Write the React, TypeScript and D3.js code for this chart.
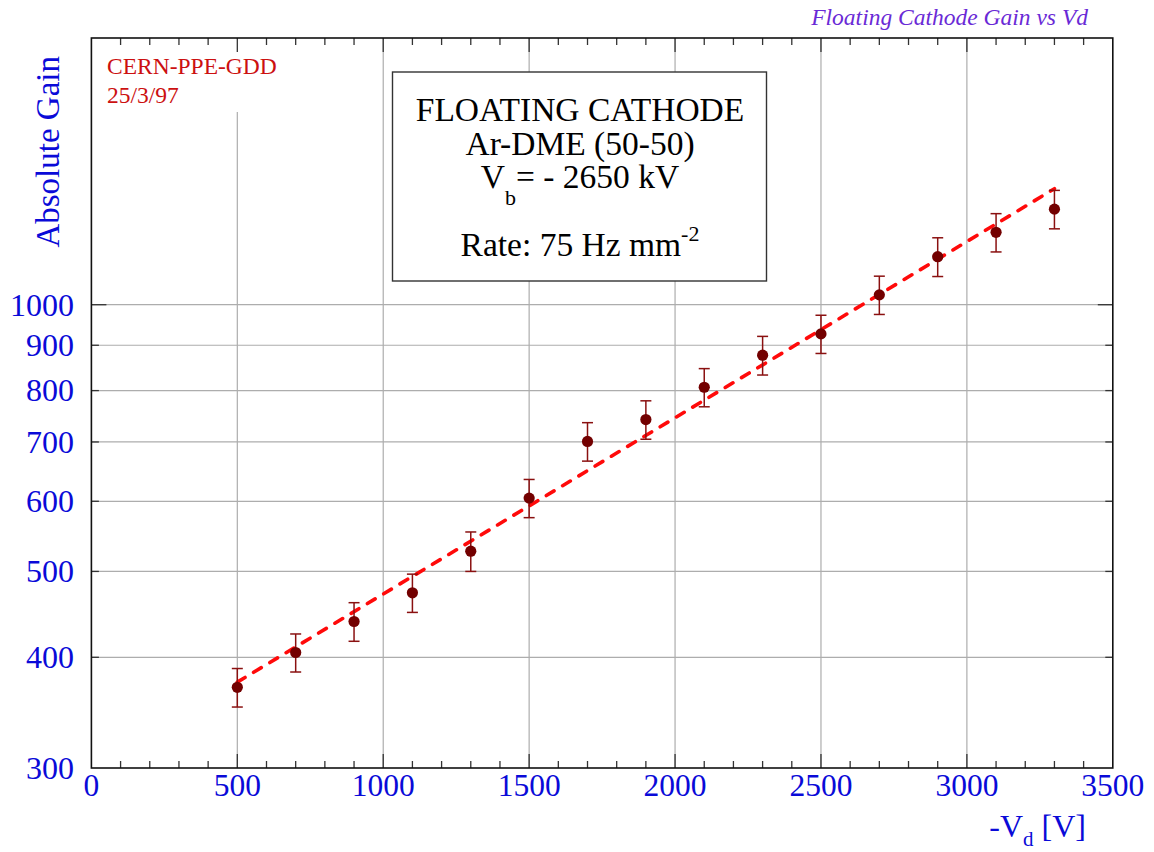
import * as d3 from "d3";
import { useEffect, useRef } from "react";

const voltages = [500, 700, 900, 1100, 1300, 1500, 1700, 1900, 2100, 2300, 2500, 2700, 2900, 3100, 3300];
const gains = [370, 405, 439, 473, 527, 605, 701, 742, 807, 877, 927, 1026, 1133, 1207, 1282];
const gainErrors = [18.5, 20, 22, 23.5, 27, 30, 35, 37, 40, 44, 46, 51, 57, 60, 64];

// exponential fit, read as its two end points (straight on the log axis)
const fitVoltages = [500, 3300];
const fitGains = [375, 1352];

const xTicks = [0, 500, 1000, 1500, 2000, 2500, 3000, 3500];
const yTicks = [300, 400, 500, 600, 700, 800, 900, 1000];

const W = 1154;
const H = 852;
const serif = "'Liberation Serif', 'Times New Roman', serif";
const blue = "#0a0ad8";

export default function App() {
    const ref = useRef<SVGSVGElement | null>(null);

    useEffect(() => {
        if (!ref.current) return;
        const svg = d3.select(ref.current);
        svg.selectAll("*").remove();

        const left = 91.4, right = 1112.8, top = 38, bottom = 768;

        const x = d3.scaleLinear().domain([0, 3500]).range([left, right]);
        const y = d3.scaleLog().domain([300, 2000]).range([bottom, top]);

        // grid
        const grid = svg.append("g").attr("stroke", "#adadad").attr("stroke-width", 1.2);
        grid.selectAll("line.v")
            .data(xTicks.filter((d) => d > 0 && d < 3500))
            .join("line")
            .attr("x1", (d) => x(d)).attr("x2", (d) => x(d))
            .attr("y1", top).attr("y2", bottom);
        grid.selectAll("line.h")
            .data(yTicks.filter((d) => d > 300))
            .join("line")
            .attr("x1", left).attr("x2", right)
            .attr("y1", (d) => y(d)).attr("y2", (d) => y(d));

        // white patch behind the stamp
        svg.append("rect")
            .attr("x", left + 1).attr("y", top + 1)
            .attr("width", 200).attr("height", 73)
            .attr("fill", "white");

        // ticks
        const ticks = svg.append("g").attr("stroke", "#333").attr("stroke-width", 1.3);
        const minorX = d3.range(100, 3500, 100);
        minorX.forEach((v) => {
            const len = v % 500 === 0 ? 14 : 7;
            ticks.append("line").attr("x1", x(v)).attr("x2", x(v)).attr("y1", bottom).attr("y2", bottom - len);
            ticks.append("line").attr("x1", x(v)).attr("x2", x(v)).attr("y1", top).attr("y2", top + len);
        });
        yTicks.filter((d) => d > 300).forEach((v) => {
            const len = v === 1000 ? 15 : 7.5;
            ticks.append("line").attr("x1", left).attr("x2", left + len).attr("y1", y(v)).attr("y2", y(v));
            ticks.append("line").attr("x1", right).attr("x2", right - len).attr("y1", y(v)).attr("y2", y(v));
        });

        // frame
        svg.append("rect")
            .attr("x", left).attr("y", top)
            .attr("width", right - left).attr("height", bottom - top)
            .attr("fill", "none").attr("stroke", "#111").attr("stroke-width", 1.6);

        // tick labels
        svg.append("g")
            .selectAll("text")
            .data(xTicks)
            .join("text")
            .attr("x", (d) => x(d))
            .attr("y", 796)
            .attr("text-anchor", "middle")
            .attr("font-family", serif)
            .attr("font-size", 31.5)
            .attr("fill", blue)
            .text((d) => d);

        svg.append("g")
            .selectAll("text")
            .data(yTicks)
            .join("text")
            .attr("x", 74)
            .attr("y", (d) => y(d) + 10.8)
            .attr("text-anchor", "end")
            .attr("font-family", serif)
            .attr("font-size", 32)
            .attr("fill", blue)
            .text((d) => d);

        // axis titles
        svg.append("text")
            .attr("transform", "translate(59,56) rotate(-90)")
            .attr("text-anchor", "end")
            .attr("font-family", serif)
            .attr("font-size", 33)
            .attr("fill", blue)
            .text("Absolute Gain");

        const xt = svg.append("text")
            .attr("x", 1086).attr("y", 837)
            .attr("text-anchor", "end")
            .attr("font-family", serif)
            .attr("font-size", 32)
            .attr("fill", blue);
        xt.append("tspan").text("-V");
        xt.append("tspan").attr("dy", 9).attr("font-size", 21).text("d");
        xt.append("tspan").attr("dy", -9).text(" [V]");

        // title and stamp
        svg.append("text")
            .attr("x", 1088).attr("y", 25)
            .attr("text-anchor", "end")
            .attr("font-family", serif)
            .attr("font-style", "italic")
            .attr("font-size", 23.5)
            .attr("fill", "#6a2ad6")
            .text("Floating Cathode Gain vs Vd");

        svg.append("text")
            .attr("x", 107).attr("y", 74)
            .attr("font-family", serif).attr("font-size", 23.5).attr("fill", "#cc1010")
            .text("CERN-PPE-GDD");
        svg.append("text")
            .attr("x", 107).attr("y", 103)
            .attr("font-family", serif).attr("font-size", 23.5).attr("fill", "#cc1010")
            .text("25/3/97");

        // info box
        svg.append("rect")
            .attr("x", 392.5).attr("y", 72)
            .attr("width", 374).attr("height", 209)
            .attr("fill", "white").attr("stroke", "#333").attr("stroke-width", 1.4);
        const cx = 580;
        const boxText = (yy: number) =>
            svg.append("text")
                .attr("x", cx).attr("y", yy)
                .attr("text-anchor", "middle")
                .attr("font-family", serif)
                .attr("font-size", 33.5)
                .attr("fill", "#000");
        boxText(121).text("FLOATING CATHODE");
        boxText(154.5).text("Ar-DME (50-50)");
        const vb = boxText(188);
        vb.append("tspan").text("V");
        vb.append("tspan").attr("dy", 17).attr("font-size", 22).text("b");
        vb.append("tspan").attr("dy", -17).text("= - 2650 kV");
        const rate = boxText(256);
        rate.append("tspan").text("Rate: 75 Hz mm");
        rate.append("tspan").attr("dy", -15).attr("font-size", 22).text("-2");

        // fit line
        const fitData = fitVoltages.map((v, i) => [v, fitGains[i]] as [number, number]);
        svg.append("path")
            .datum(fitData)
            .attr("d", d3.line<[number, number]>().x((d) => x(d[0])).y((d) => y(d[1])))
            .attr("fill", "none")
            .attr("stroke", "#ff0a0a")
            .attr("stroke-width", 3.6)
            .attr("stroke-linecap", "round")
            .attr("stroke-dasharray", "9,10");

        // error bars
        const pts = voltages.map((v, i) => ({ v, g: gains[i], e: gainErrors[i] }));
        const eb = svg.append("g").attr("stroke", "#8a1010").attr("stroke-width", 1.5);
        pts.forEach((p) => {
            const px = x(p.v);
            const y1 = y(p.g + p.e);
            const y0 = y(p.g - p.e);
            eb.append("line").attr("x1", px).attr("x2", px).attr("y1", y1).attr("y2", y0);
            eb.append("line").attr("x1", px - 5.5).attr("x2", px + 5.5).attr("y1", y1).attr("y2", y1);
            eb.append("line").attr("x1", px - 5.5).attr("x2", px + 5.5).attr("y1", y0).attr("y2", y0);
        });

        svg.append("g")
            .selectAll("circle")
            .data(pts)
            .join("circle")
            .attr("cx", (d) => x(d.v))
            .attr("cy", (d) => y(d.g))
            .attr("r", 5.6)
            .attr("fill", "#730000");
    }, []);

    return (
        <svg
            ref={ref}
            width={W}
            height={H}
            style={{ position: "absolute", left: 0, top: 0, background: "white" }}
        ></svg>
    );
}
